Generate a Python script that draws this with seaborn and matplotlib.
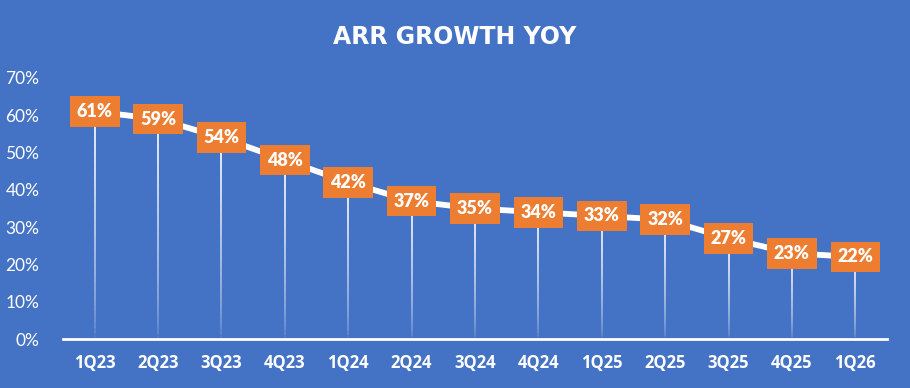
import matplotlib
matplotlib.use("Agg")
import matplotlib.pyplot as plt
import seaborn as sns
import numpy as np
import pandas as pd
from matplotlib.ticker import FuncFormatter

quarters = ["1Q23", "2Q23", "3Q23", "4Q23", "1Q24", "2Q24", "3Q24", "4Q24",
            "1Q25", "2Q25", "3Q25", "4Q25", "1Q26"]
growth = [0.61, 0.59, 0.54, 0.48, 0.42, 0.37, 0.35, 0.34, 0.33, 0.32, 0.27, 0.23, 0.22]
yticks = [0, 0.1, 0.2, 0.3, 0.4, 0.5, 0.6, 0.7]
title = "ARR GROWTH YOY"

BG = "#4472C4"
ORANGE = "#ED7D31"

sns.set_theme(style="white")
plt.rcParams['font.family'] = ['Lato', 'DejaVu Sans']

df = pd.DataFrame({"q": quarters, "g": growth, "x": np.arange(len(quarters))})

fig = plt.figure(figsize=(9.1, 3.88), dpi=100, facecolor=BG)
ax = fig.add_axes([63/910, 1-339/388, (887-63)/910, (339-78)/388])
ax.set_facecolor(BG)

# drop lines with fade toward the axis
nseg = 40
for xi, yi in zip(df["x"], df["g"]):
    edges = np.linspace(0, yi, nseg + 1)
    for k in range(nseg):
        a = 0.05 + 0.85 * (k / nseg) ** 0.6
        ax.plot([xi, xi], [edges[k], edges[k+1]], color="white", lw=1.4,
                alpha=a, solid_capstyle="butt", zorder=1)

sns.lineplot(data=df, x="x", y="g", ax=ax, color="white", lw=4.2, zorder=2)

for xi, yi in zip(df["x"], df["g"]):
    ax.text(xi, yi, f"{round(yi*100)}%", ha="center", va="center", color="white",
            fontsize=13, fontweight="heavy", zorder=4,
            bbox=dict(boxstyle="square,pad=0.38", fc=ORANGE, ec="none"))

ax.set_xlim(-0.5, len(quarters) - 0.5)
ax.set_ylim(0, 0.70)
ax.set_xticks(df["x"])
ax.set_xticklabels(quarters)
ax.set_yticks(yticks)
ax.yaxis.set_major_formatter(FuncFormatter(lambda v, p: f"{round(v*100)}%"))
ax.tick_params(axis="x", colors="white", labelsize=12, length=0, pad=11)
ax.tick_params(axis="y", colors="white", labelsize=12.5, length=0, pad=17)
for lab in ax.get_xticklabels():
    lab.set_fontweight("bold")
    lab.set_family(["Open Sans", "DejaVu Sans"])
for s in ["top", "right", "left"]:
    ax.spines[s].set_visible(False)
ax.spines["bottom"].set_color("white")
ax.spines["bottom"].set_linewidth(2)
ax.set_xlabel("")
ax.set_ylabel("")

fig.text(455/910, 1-37/388, title, ha="center", va="center", color="white",
         fontsize=17, fontweight="bold", family=["DejaVu Sans"])

fig.savefig("out.png", dpi=100, facecolor=BG)
